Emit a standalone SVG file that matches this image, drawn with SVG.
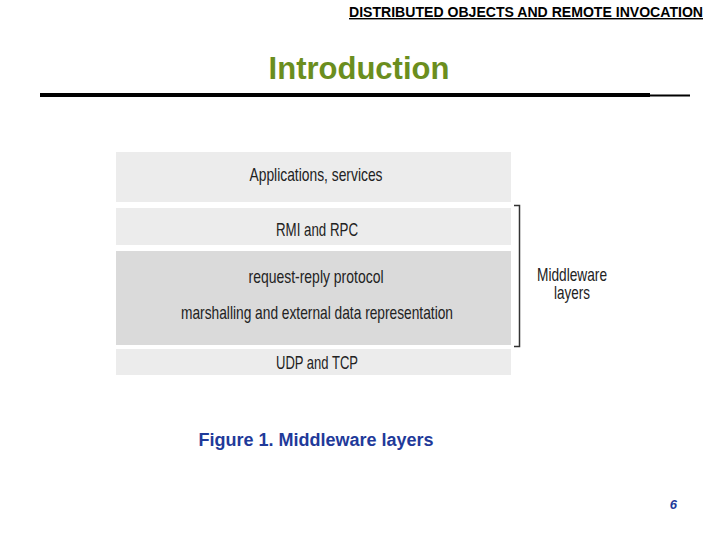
<svg xmlns="http://www.w3.org/2000/svg" width="720" height="540" viewBox="0 0 720 540">
<style>
.l{fill:#ececec}
.t{font-family:"Liberation Sans",Arial,sans-serif;font-size:19px;fill:#222;text-anchor:middle}
</style>
<rect width="720" height="540" fill="#fff"/>
<text x="703" y="17" font-family="Liberation Sans,Arial,sans-serif" font-size="14" font-weight="bold" text-anchor="end" text-decoration="underline" textLength="354" lengthAdjust="spacingAndGlyphs">DISTRIBUTED OBJECTS AND REMOTE INVOCATION</text>
<text x="359" y="79" font-family="Liberation Sans,Arial,sans-serif" font-size="31" font-weight="bold" fill="#6b8e1e" text-anchor="middle">Introduction</text>
<rect x="40" y="93" width="610" height="4" fill="#000"/>
<rect x="650" y="94.5" width="40" height="2" fill="#000"/>
<g id="apps"><rect class="l" x="116" y="152" width="395" height="50"/><text class="t" x="316" y="181" textLength="133" lengthAdjust="spacingAndGlyphs">Applications, services</text></g>
<g id="rmi"><rect class="l" x="116" y="208" width="395" height="37"/><text class="t" x="317" y="236" textLength="82" lengthAdjust="spacingAndGlyphs">RMI and RPC</text></g>
<g id="rr"><rect x="116" y="251" width="395" height="94" fill="#dadada"/><text class="t" x="316" y="283" textLength="135" lengthAdjust="spacingAndGlyphs">request-reply protocol</text><text class="t" x="317" y="319" textLength="272" lengthAdjust="spacingAndGlyphs">marshalling and external data representation</text></g>
<g id="udp"><rect class="l" x="116" y="349" width="395" height="26"/><text class="t" x="317" y="369" textLength="82" lengthAdjust="spacingAndGlyphs">UDP and TCP</text></g>
<g id="connectors"><path d="M514 205.5H519.5V346.5H514" fill="none" stroke="#333" stroke-width="1.5"/></g>
<g id="mw"><text class="t" x="572" y="281" textLength="70" lengthAdjust="spacingAndGlyphs">Middleware</text><text class="t" x="572" y="299" textLength="36" lengthAdjust="spacingAndGlyphs">layers</text></g>
<text x="316" y="446" font-family="Liberation Sans,Arial,sans-serif" font-size="18" font-weight="bold" fill="#1f3a9a" text-anchor="middle">Figure 1. Middleware layers</text>
<text x="677" y="509" font-family="Liberation Sans,Arial,sans-serif" font-size="13" font-style="italic" font-weight="bold" fill="#1f3a9a" text-anchor="end">6</text>
</svg>
